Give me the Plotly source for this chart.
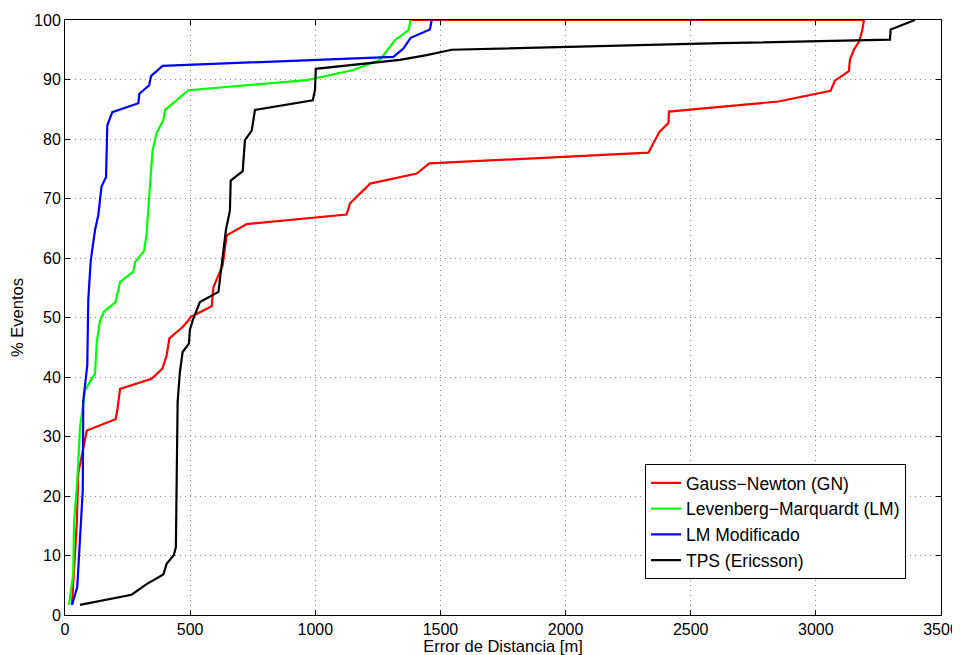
import plotly.graph_objects as go

gn_x = [28, 47, 53, 73, 87, 202, 209, 220, 346, 389, 406, 417, 470, 493, 502, 586, 593, 630, 646, 726,
        1125, 1139, 1219, 1405, 1456, 2331, 2375, 2411, 2413, 2850, 3059, 3076, 3132, 3136, 3152, 3173,
        3185, 3192, 1380]
gn_y = [1.7, 15.4, 23.8, 28.2, 31.0, 32.9, 34.4, 38.0, 39.7, 41.4, 43.6, 46.5, 48.4, 49.5, 50.1, 51.9,
        55.1, 58.8, 63.8, 65.7, 67.3, 69.2, 72.5, 74.2, 75.9, 77.7, 81.2, 82.7, 84.6, 86.3, 88.1, 89.8,
        91.4, 93.3, 95.0, 96.4, 98.2, 100, 100]

lm_x = [16, 27, 33, 36, 49, 60, 80, 120, 127, 140, 156, 202, 220, 273, 280, 316, 326, 337, 350, 366,
        393, 400, 493, 966, 1152, 1258, 1318, 1372, 1381]
lm_y = [1.7, 5.2, 7.0, 15.4, 22.6, 31.6, 37.8, 40.6, 46.0, 49.5, 51.0, 52.6, 56.0, 57.7, 59.3, 61.2,
        64.1, 70.8, 78.1, 81.0, 83.2, 84.9, 88.2, 89.9, 91.6, 93.3, 96.6, 98.3, 100]

lmm_x = [28, 49, 71, 73, 89, 93, 93, 103, 120, 133, 146, 164, 169, 189, 293, 297, 336, 344, 390,
         1312, 1352, 1381, 1458, 1465]
lmm_y = [1.7, 4.7, 21.0, 36.0, 42.0, 49.0, 53.0, 59.6, 64.7, 67.2, 72.0, 73.6, 82.3, 84.5, 86.0,
         87.6, 89.0, 90.6, 92.3, 93.8, 95.2, 97.0, 98.4, 100]

tps_x = [60, 266, 326, 393, 406, 435, 443, 446, 450, 459, 470, 495, 499, 510, 539, 613, 626, 643,
         659, 662, 710, 719, 746, 759, 990, 999, 1002, 1338, 1445, 1545, 2617, 3296, 3299, 3396]
tps_y = [1.7, 3.4, 5.2, 6.8, 8.6, 10.1, 11.4, 28.2, 35.8, 40.8, 44.2, 45.6, 47.9, 49.5, 52.6, 54.3,
         59.1, 64.7, 68.0, 73.0, 74.6, 79.8, 81.4, 84.9, 86.5, 88.3, 91.8, 93.3, 94.1, 95.0, 96.1,
         96.7, 98.4, 100]

series = [
    ("Gauss\u2212Newton (GN)", gn_x, gn_y, "#ff0000"),
    ("Levenberg\u2212Marquardt (LM)", lm_x, lm_y, "#00ff00"),
    ("LM Modificado", lmm_x, lmm_y, "#0000ff"),
    ("TPS (Ericsson)", tps_x, tps_y, "#000000"),
]

x_ticks = [0, 500, 1000, 1500, 2000, 2500, 3000, 3500]
y_ticks = [0, 10, 20, 30, 40, 50, 60, 70, 80, 90, 100]

fig = go.Figure()
for name, xs, ys, c in series:
    fig.add_trace(go.Scatter(x=xs, y=ys, mode="lines", name=name,
                             line=dict(color=c, width=2.2)))

font = "Liberation Sans, Arial, Helvetica, sans-serif"
axis_common = dict(showline=True, linecolor="black", linewidth=1, mirror="ticks",
                   ticks="inside", ticklen=5, tickcolor="black", automargin=False,
                   showgrid=True, gridcolor="#8c8c8c", griddash="1px,4px", gridwidth=1,
                   zeroline=False, tickfont=dict(size=16, color="black", family=font))

fig.update_layout(
    width=952, height=647,
    margin=dict(l=57, r=19, t=12, b=40),
    paper_bgcolor="white", plot_bgcolor="white",
    font=dict(family=font, color="black", size=16),
    xaxis=dict(range=[0, 3500], tickvals=x_ticks, **axis_common,
               title=dict(text="Error de Distancia [m]", font=dict(size=16.5), standoff=0)),
    yaxis=dict(range=[0, 100], tickvals=y_ticks, **axis_common,
               title=dict(text="% Eventos", font=dict(size=16.5), standoff=10)),
    legend=dict(x=0.96, y=0.0605, xanchor="right", yanchor="bottom",
                bgcolor="white", bordercolor="black", borderwidth=1,
                font=dict(size=17.5, family=font)),
    showlegend=True,
)

fig.write_html("out.html")
